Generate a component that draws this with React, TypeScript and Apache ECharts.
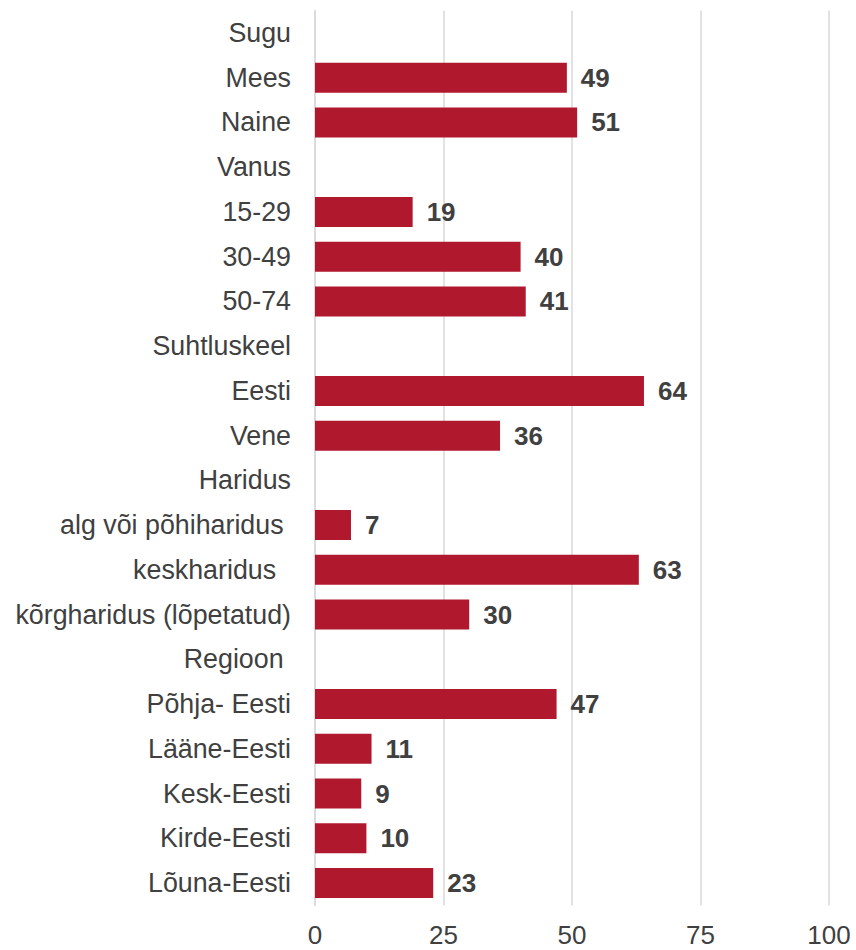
import React, { useEffect, useRef } from "react";
import * as echarts from "echarts";

const categories: string[] = [
  "Sugu",
  "Mees",
  "Naine",
  "Vanus",
  "15-29",
  "30-49",
  "50-74",
  "Suhtluskeel",
  "Eesti",
  "Vene",
  "Haridus",
  "alg või põhiharidus ",
  "keskharidus  ",
  "kõrgharidus (lõpetatud)",
  "Regioon ",
  "Põhja- Eesti",
  "Lääne-Eesti",
  "Kesk-Eesti",
  "Kirde-Eesti",
  "Lõuna-Eesti",
];

const values: (number | null)[] = [
  null, 49, 51,
  null, 19, 40, 41,
  null, 64, 36,
  null, 7, 63, 30,
  null, 47, 11, 9, 10, 23,
];

const xTicks = { min: 0, max: 100, interval: 25 };

const FONT = '"Liberation Sans", Arial, sans-serif';
const TEXT = "#404040";

export default function App() {
  const ref = useRef<HTMLDivElement>(null);
  useEffect(() => {
    if (!ref.current) return;
    const chart = echarts.init(ref.current, undefined, { renderer: "svg" });
    chart.setOption({
      animation: false,
      backgroundColor: "#ffffff",
      grid: { left: 315, right: 27, top: 10.6, bottom: 44.6, containLabel: false },
      xAxis: {
        type: "value",
        min: xTicks.min,
        max: xTicks.max,
        interval: xTicks.interval,
        axisLine: { show: false },
        axisTick: { show: false },
        axisLabel: {
          color: TEXT,
          fontSize: 26,
          lineHeight: 22,
          fontFamily: FONT,
          margin: 19,
        },
        splitLine: { show: true, lineStyle: { color: "#d9d9d9", width: 1.5 } },
      },
      yAxis: {
        type: "category",
        inverse: true,
        data: categories,
        axisLine: { show: true, lineStyle: { color: "#d9d9d9", width: 1.5 } },
        axisTick: { show: false },
        axisLabel: { color: TEXT, fontSize: 26.8, fontFamily: FONT, margin: 24 },
      },
      series: [
        {
          type: "bar",
          data: values,
          barWidth: 30,
          itemStyle: { color: "#B0182E" },
          label: {
            show: true,
            position: "right",
            distance: 14,
            color: TEXT,
            fontSize: 26,
            fontWeight: "bold",
            fontFamily: FONT,
          },
        },
      ],
    });
    return () => chart.dispose();
  }, []);
  return (
    <div
      ref={ref}
      style={{ position: "fixed", left: 0, top: 0, width: 856, height: 950 }}
    />
  );
}
